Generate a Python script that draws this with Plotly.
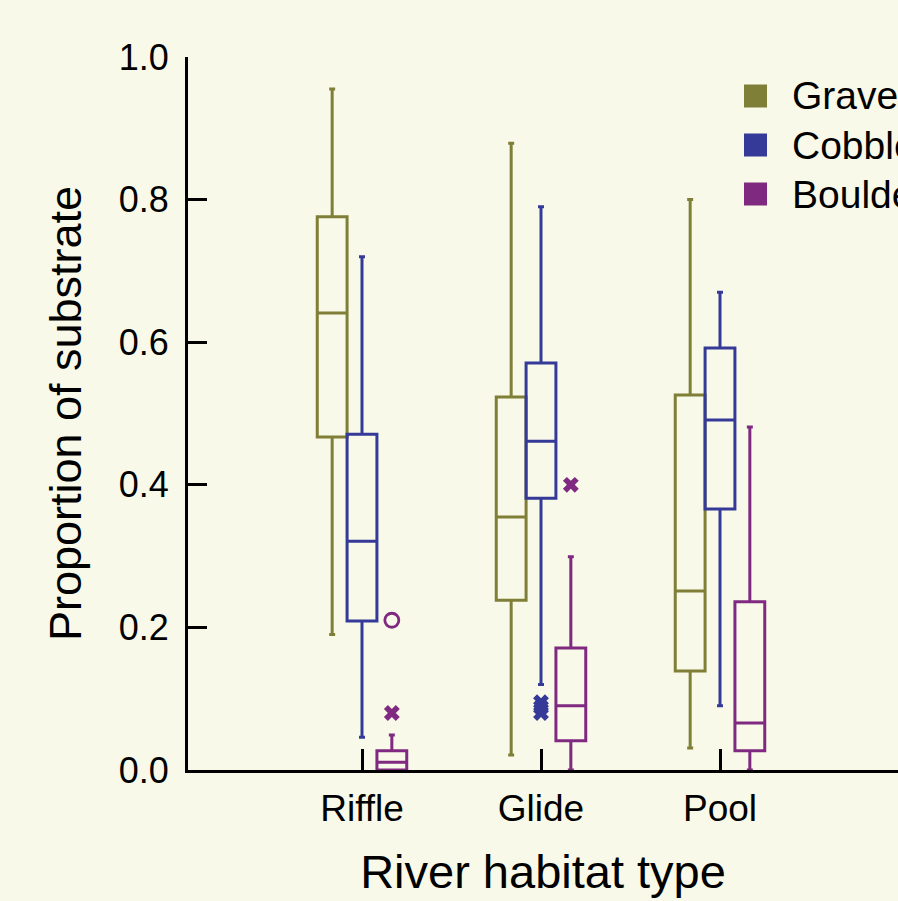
import plotly.graph_objects as go

habitats = ["Riffle", "Glide", "Pool"]
substrates = ["Gravel", "Cobble", "Boulder"]
colors = {"Gravel": "#7F7F37", "Cobble": "#353A98", "Boulder": "#7F2A80"}

# box statistics per substrate, one value per habitat (Riffle, Glide, Pool)
gravel_low = [0.19, 0.021, 0.031]
gravel_q1 = [0.467, 0.238, 0.139]
gravel_med = [0.641, 0.355, 0.251]
gravel_q3 = [0.776, 0.523, 0.526]
gravel_high = [0.955, 0.879, 0.80]

cobble_low = [0.046, 0.12, 0.09]
cobble_q1 = [0.209, 0.381, 0.366]
cobble_med = [0.321, 0.461, 0.491]
cobble_q3 = [0.471, 0.571, 0.592]
cobble_high = [0.72, 0.79, 0.67]

boulder_low = [0.0, 0.0, 0.0]
boulder_q1 = [0.0, 0.041, 0.027]
boulder_med = [0.011, 0.09, 0.066]
boulder_q3 = [0.027, 0.171, 0.236]
boulder_high = [0.049, 0.299, 0.481]

# outliers: (habitat index, substrate, value, symbol)
outlier_habitat = [0, 0, 1, 1, 1, 1]
outlier_substrate = ["Boulder", "Boulder", "Cobble", "Cobble", "Cobble", "Boulder"]
outlier_value = [0.21, 0.08, 0.095, 0.088, 0.08, 0.40]
outlier_symbol = ["circle-open", "x", "x", "x", "x", "x"]

stats = {
    "Gravel": (gravel_low, gravel_q1, gravel_med, gravel_q3, gravel_high),
    "Cobble": (cobble_low, cobble_q1, cobble_med, cobble_q3, cobble_high),
    "Boulder": (boulder_low, boulder_q1, boulder_med, boulder_q3, boulder_high),
}

slot = 1 / 6
offsets = {"Gravel": -slot, "Cobble": 0.0, "Boulder": slot}

fig = go.Figure()
for s in substrates:
    lo, q1, med, q3, hi = stats[s]
    fig.add_trace(go.Box(
        x=[i + offsets[s] for i in range(len(habitats))],
        lowerfence=lo, q1=q1, median=med, q3=q3, upperfence=hi,
        width=slot, whiskerwidth=0.2,
        line=dict(color=colors[s], width=3),
        fillcolor="rgba(0,0,0,0)",
        boxpoints=False, name=s, showlegend=False, hoverinfo="skip",
    ))

for h, s, v, sym in zip(outlier_habitat, outlier_substrate, outlier_value, outlier_symbol):
    open_ = sym.endswith("open")
    fig.add_trace(go.Scatter(
        x=[h + offsets[s]], y=[v], mode="markers", showlegend=False,
        marker=dict(symbol=sym, size=14, color=colors[s],
                    line=dict(color=colors[s], width=2.8 if open_ else 0)),
    ))

# manual legend
L, R, T, B = 188, 898, 57, 770
W, H = R - L, B - T
def px(xp):
    return (xp - L) / W
def py(yp):
    return (B - yp) / H
leg_y = [96, 145, 194]
for s, yc in zip(substrates, leg_y):
    fig.add_shape(type="rect", xref="paper", yref="paper",
                  x0=px(744), x1=px(767), y0=py(yc + 11.5), y1=py(yc - 11.5),
                  fillcolor=colors[s], line=dict(width=0))
    fig.add_annotation(xref="paper", yref="paper", x=px(790), y=py(yc),
                       text=s, showarrow=False, xanchor="left", yanchor="middle",
                       font=dict(size=39, color="black"))

font_family = "Liberation Sans, Arial, Helvetica, sans-serif"
bg = "#F8F9E8"
fig.update_layout(
    width=898, height=901,
    margin=dict(l=L, r=898 - R, t=T, b=901 - B, pad=0),
    paper_bgcolor=bg, plot_bgcolor=bg,
    font=dict(family=font_family, color="black", size=36),
    showlegend=False,
)
fig.update_xaxes(
    range=[-(362 - L) / 179, (R - 362) / 179],
    tickvals=list(range(len(habitats))), ticktext=habitats,
    ticks="inside", ticklen=21, tickwidth=2.8, tickcolor="black",
    showline=True, linecolor="black", linewidth=2.8, showgrid=False, zeroline=False,
    ticklabelstandoff=4, tickfont=dict(size=37),
    title=dict(text="River habitat type", font=dict(size=47), standoff=27),
)
fig.update_yaxes(
    range=[0, 1.0], tickvals=[0, 0.2, 0.4, 0.6, 0.8, 1.0], tickformat=".1f",
    ticks="inside", ticklen=19, tickwidth=2.8, tickcolor="black",
    showline=True, linecolor="black", linewidth=2.8, showgrid=False, zeroline=False,
    ticklabelstandoff=9, tickfont=dict(size=36),
    title=dict(text="Proportion of substrate", font=dict(size=45), standoff=24),
)

fig.write_html("out.html")
